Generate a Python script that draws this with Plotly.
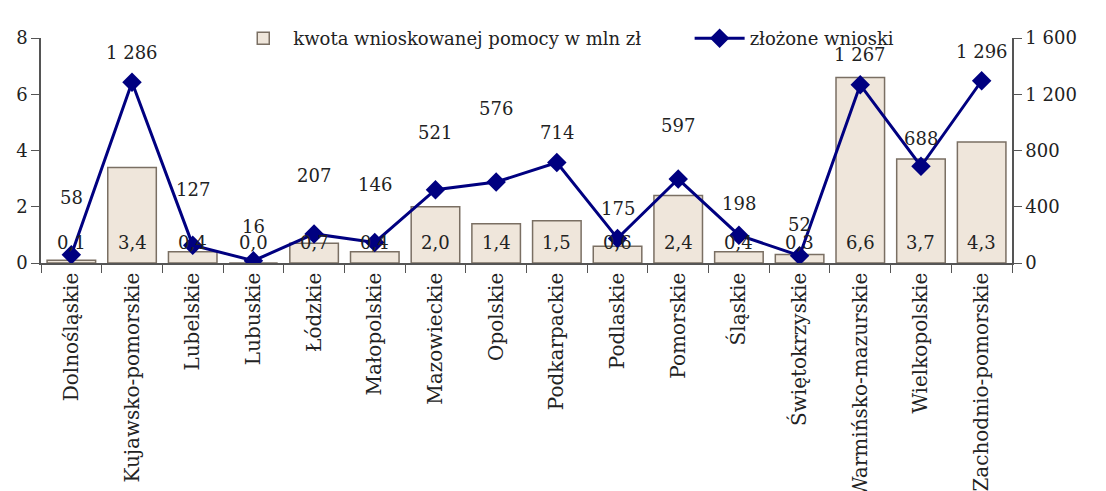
import plotly.graph_objects as go

categories = ["Dolnośląskie", "Kujawsko-pomorskie", "Lubelskie", "Lubuskie", "Łódzkie",
              "Małopolskie", "Mazowieckie", "Opolskie", "Podkarpackie", "Podlaskie",
              "Pomorskie", "Śląskie", "Świętokrzyskie", "Warmińsko-mazurskie",
              "Wielkopolskie", "Zachodnio-pomorskie"]
kwota = [0.1, 3.4, 0.4, 0.0, 0.7, 0.4, 2.0, 1.4, 1.5, 0.6, 2.4, 0.4, 0.3, 6.6, 3.7, 4.3]
wnioski = [58, 1286, 127, 16, 207, 146, 521, 576, 714, 175, 597, 198, 52, 1267, 688, 1296]
left_ticks = [0, 2, 4, 6, 8]
right_ticks = [0, 400, 800, 1200, 1600]

# label offsets (pixels above the point) as placed in the original
label_shift = [57, 30, 56, 34, 58, 58, 57, 74, 30, 30, 54, 32, 31, 30, 28, 29]

FONT = "DejaVu Serif"
TXT = "#222222"

fig = go.Figure()
fig.add_trace(go.Bar(
    x=categories, y=kwota, name="kwota wnioskowanej pomocy w mln zł",
    marker=dict(color="#EFE6DB", line=dict(color="#7A6F63", width=1.5)),
    width=0.8, yaxis="y", legend="legend",
))
fig.add_trace(go.Scatter(
    x=categories, y=wnioski, name="złożone wnioski", yaxis="y2", legend="legend2",
    mode="lines+markers",
    line=dict(color="#000080", width=3),
    marker=dict(symbol="diamond", size=15, color="#000080"),
))

annotations = []
for c, v in zip(categories, kwota):
    annotations.append(dict(
        x=c, y=0, xref="x", yref="y", yanchor="bottom", yshift=8,
        text=f"{v:.1f}".replace(".", ","), showarrow=False,
        font=dict(family=FONT, size=18, color=TXT)))
for c, v, s in zip(categories, wnioski, label_shift):
    annotations.append(dict(
        x=c, y=v, xref="x", yref="y2", yanchor="middle", yshift=s,
        text=f"{v:,}".replace(",", " "), showarrow=False,
        font=dict(family=FONT, size=18, color=TXT)))

legend_style = dict(orientation="h", y=1.08, xanchor="left", yanchor="top",
                    font=dict(family=FONT, size=18, color=TXT),
                    bgcolor="rgba(255,255,255,0)", itemwidth=50)

fig.update_layout(
    width=1098, height=483,
    margin=dict(l=33, r=94, t=20, b=228),
    paper_bgcolor="white", plot_bgcolor="white",
    font=dict(family=FONT, size=18, color=TXT),
    separators=", ",
    showlegend=True,
    legend=dict(x=0.198, **legend_style),
    legend2=dict(x=0.668, **legend_style),
    xaxis=dict(range=[-0.5, 15.5], tickangle=-90, showline=True, linecolor="#555555",
               linewidth=1.5, ticks="outside", tickson="boundaries", ticklen=8,
               tickcolor="#555555", showgrid=False, automargin=False,
               tickfont=dict(family=FONT, size=20, color=TXT)),
    yaxis=dict(range=[0, 8], tickvals=left_ticks, showline=True, linecolor="#555555",
               linewidth=1.5, ticks="outside", ticklen=8, tickcolor="#555555",
               showgrid=False, zeroline=False, automargin=False,
               tickfont=dict(family=FONT, size=18, color=TXT)),
    yaxis2=dict(range=[0, 1600], tickvals=right_ticks, tickformat=",d",
                overlaying="y", side="right", showline=True, linecolor="#555555",
                linewidth=1.5, ticks="outside", ticklen=8, tickcolor="#555555",
                showgrid=False, zeroline=False, automargin=False,
                tickfont=dict(family=FONT, size=18, color=TXT)),
    annotations=annotations,
)

fig.write_html("out.html")
